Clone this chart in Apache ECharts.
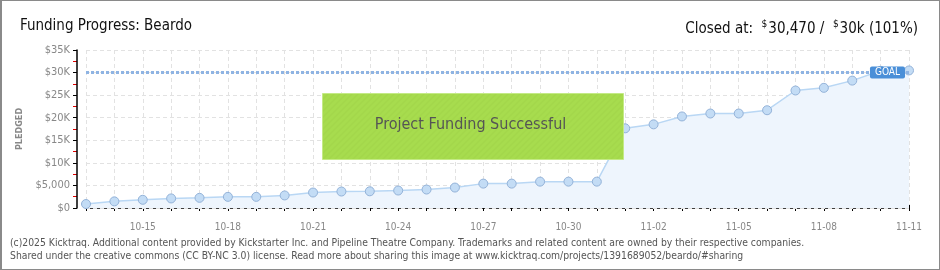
<!DOCTYPE html>
<html>
<head>
<meta charset="UTF-8">
<title>Funding Progress: Beardo</title>
<script src="https://cdn.jsdelivr.net/npm/echarts@6/dist/echarts.min.js"></script>
<style>
html, body {
	margin: 0;
	padding: 0;
	background: #fff;
}

#main {
	width: 940px;
	height: 270px;
	box-sizing: border-box;
	border: 1px solid #8a8a8a;
	border-left-width: 2px;
}
</style>
</head>
<body>
	<div id="main"></div>
	<script>
		// data
		var days = [ '10-13', '10-14', '10-15', '10-16', '10-17', '10-18', '10-19',
				'10-20', '10-21', '10-22', '10-23', '10-24', '10-25', '10-26',
				'10-27', '10-28', '10-29', '10-30', '10-31', '11-01', '11-02',
				'11-03', '11-04', '11-05', '11-06', '11-07', '11-08', '11-09',
				'11-10', '11-11' ];
		var pledged = [ 880, 1470, 1820, 2120, 2250, 2470, 2470, 2780, 3430, 3650,
				3700, 3870, 4090, 4530, 5400, 5400, 5840, 5840, 5840, 17650,
				18530, 20280, 20930, 20930, 21660, 26030, 26620, 28220, 30400,
				30470 ];
		var goal = 30000;

		var titleFont = '"DejaVu Sans Condensed", "DejaVu Sans", sans-serif';
		var footFont = '"DejaVu Sans Condensed", "DejaVu Sans", sans-serif';

		function money(v) {
			if (v == 0) return '$0';
			if (v < 10000) return '$' + v.toLocaleString('en-US');
			return '$' + (v / 1000) + 'K';
		}

		// striped green fill for the banner
		var stripe = document.createElement('canvas');
		stripe.width = 6;
		stripe.height = 6;
		var ctx = stripe.getContext('2d');
		ctx.fillStyle = '#a7dc4e';
		ctx.fillRect(0, 0, 6, 6);
		ctx.strokeStyle = '#a0d348';
		ctx.lineWidth = 1;
		ctx.beginPath();
		ctx.moveTo(0, 6);
		ctx.lineTo(6, 0);
		ctx.moveTo(-3, 3);
		ctx.lineTo(3, -3);
		ctx.moveTo(3, 9);
		ctx.lineTo(9, 3);
		ctx.stroke();

		var myChart = echarts.init(document.getElementById('main'));

		var option = {
			animation : false,
			title : [ {
				text : 'Funding Progress: Beardo',
				left : 13,
				top : 13,
				textStyle : {
					fontFamily : titleFont,
					fontSize : 15,
					fontWeight : 'normal',
					color : '#111'
				}
			}, {
				text : '{a|Closed at:  }{s|$}{a|30,470 /  }{s|$}{a|30k (101%)}',
				right : 16,
				top : 13,
				textStyle : {
					fontWeight : 'normal',
					rich : {
						a : {
							fontFamily : titleFont,
							fontSize : 15,
							fontWeight : 'normal',
							color : '#111',
							lineHeight : 20
						},
						s : {
							fontFamily : titleFont,
							fontSize : 10,
							fontWeight : 'normal',
							color : '#111',
							lineHeight : 20,
							verticalAlign : 'top',
							padding : [ 0, 1, 8, 0 ]
						}
					}
				}
			} ],
			grid : {
				left : 84,
				right : 30,
				top : 49,
				bottom : 61
			},
			xAxis : [ {
				type : 'category',
				data : days,
				boundaryGap : false,
				offset : 11,
				axisLine : {
					lineStyle : {
						color : '#000',
						width : 1.5
					}
				},
				axisTick : {
					interval : 0,
					length : 3,
					lineStyle : {
						color : '#000'
					}
				},
				axisLabel : {
					interval : function(idx) {
						return (idx - 2) % 3 === 0;
					},
					margin : 3,
					color : '#888',
					fontFamily : titleFont,
					fontSize : 10
				},
				splitLine : {
					show : true,
					interval : 0,
					lineStyle : {
						color : '#e2e2e2',
						type : [ 4, 3 ]
					}
				}
			}, {
				type : 'category',
				data : days,
				boundaryGap : false,
				position : 'bottom',
				offset : 11,
				axisLine : {
					show : false
				},
				axisTick : {
					interval : 0,
					inside : true,
					length : 3,
					lineStyle : {
						color : '#000'
					}
				},
				axisLabel : {
					show : false
				}
			} ],
			yAxis : [ {
				// red half-step ticks, drawn under the main axis
				type : 'value',
				min : 0,
				max : 35000,
				interval : 2500,
				offset : 9,
				position : 'left',
				z : 0,
				axisLine : {
					show : false
				},
				axisTick : {
					show : true,
					length : 4,
					lineStyle : {
						color : '#d00'
					}
				},
				axisLabel : {
					show : false
				},
				splitLine : {
					show : false
				}
			}, {
				type : 'value',
				min : 0,
				max : 35000,
				interval : 5000,
				offset : 9,
				position : 'left',
				z : 2,
				name : 'PLEDGED',
				nameLocation : 'middle',
				nameGap : 53,
				nameTextStyle : {
					color : '#888',
					fontFamily : footFont,
					fontSize : 9,
					fontWeight : 'bold'
				},
				axisLine : {
					show : true,
					lineStyle : {
						color : '#000',
						width : 1.5
					}
				},
				axisTick : {
					show : true,
					length : 4,
					lineStyle : {
						color : '#000'
					}
				},
				axisLabel : {
					margin : 7,
					color : '#888',
					fontFamily : titleFont,
					fontSize : 11,
					formatter : money
				},
				splitLine : {
					show : true,
					lineStyle : {
						color : '#e2e2e2',
						type : [ 4, 3 ]
					}
				}
			} ],
			series : [ {
				type : 'line',
				data : pledged,
				yAxisIndex : 1,
				symbol : 'circle',
				symbolSize : 9,
				z : 5,
				lineStyle : {
					color : '#b9d7f4',
					width : 1.5
				},
				itemStyle : {
					color : '#c3dcf5',
					borderColor : '#93b2d8',
					borderWidth : 1
				},
				areaStyle : {
					color : '#eef5fd',
					opacity : 1
				},
				markLine : {
					silent : true,
					symbol : 'none',
					z : 6,
					lineStyle : {
						color : '#8fb4e3',
						type : [ 3, 2 ],
						width : 3
					},
					label : {
						position : 'insideEnd',
						distance : 4,
						formatter : 'GOAL',
						color : '#fff',
						fontFamily : titleFont,
						fontSize : 10,
						backgroundColor : '#4a8fd8',
						borderRadius : 2,
						padding : [ 1, 5, 1, 5 ]
					},
					data : [ {
						yAxis : goal
					} ]
				}
			} ],
			graphic : [ {
				type : 'rect',
				left : 320,
				top : 92,
				z : 100,
				shape : {
					width : 301,
					height : 66
				},
				style : {
					fill : {
						image : stripe,
						repeat : 'repeat'
					},
					stroke : '#c4ea86',
					lineWidth : 1
				}
			}, {
				type : 'text',
				left : 'center',
				top : 116,
				x : -3,
				z : 101,
				style : {
					text : 'Project Funding Successful',
					font : '16px ' + titleFont,
					fill : '#555',
					textShadowColor : '#fff',
					textShadowOffsetX : 1,
					textShadowOffsetY : 1,
					textShadowBlur : 0
				}
			}, {
				type : 'text',
				left : 8,
				top : 236,
				style : {
					text : '(c)2025 Kicktraq. Additional content provided by Kickstarter Inc. and Pipeline Theatre Company. Trademarks and related content are owned by their respective companies.\nShared under the creative commons (CC BY-NC 3.0) license. Read more about sharing this image at www.kicktraq.com/projects/1391689052/beardo/#sharing',
					font : '10.3px ' + footFont,
					fill : '#555',
					lineHeight : 13
				}
			} ]
		};
		myChart.setOption(option);
	</script>
</body>
</html>
